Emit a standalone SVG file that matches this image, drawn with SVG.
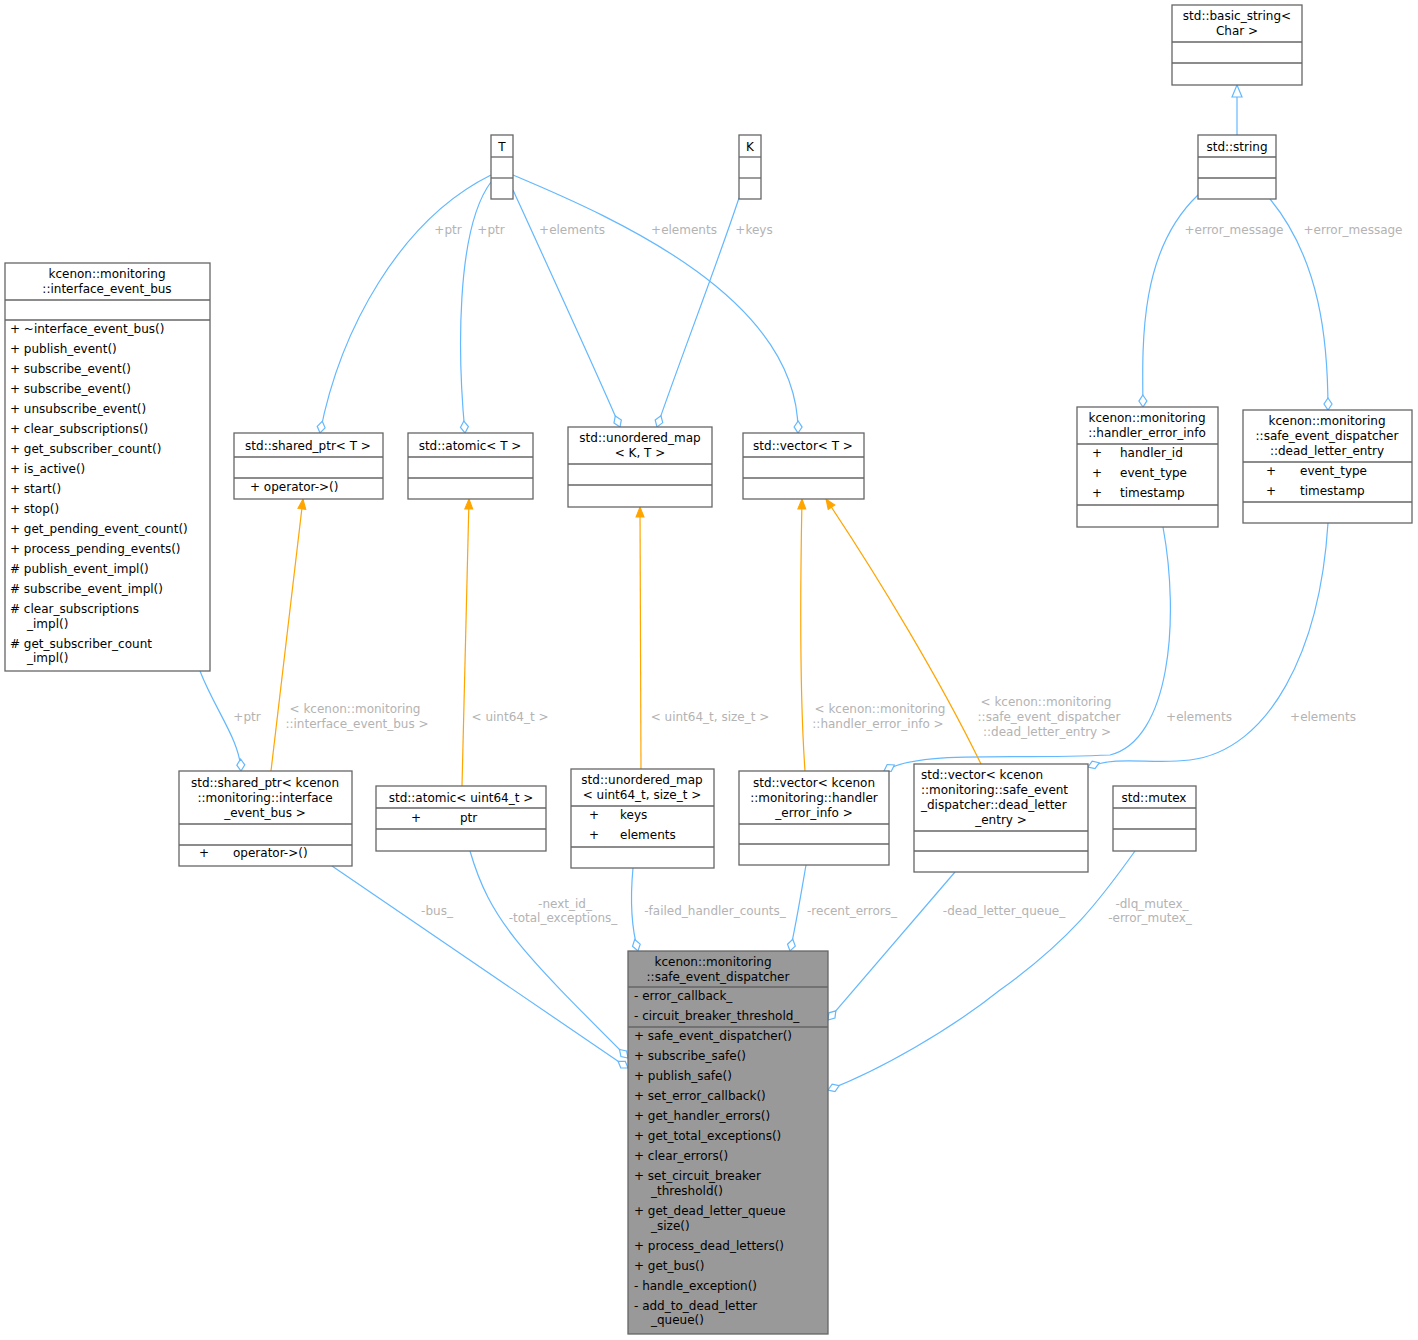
<svg xmlns="http://www.w3.org/2000/svg" width="1418" height="1340" viewBox="0 0 1418 1340">
<style>
text{font-family:"DejaVu Sans",sans-serif;font-size:12px;fill:#000}
.c{text-anchor:middle}
.b{fill:#fff;stroke:#666;stroke-width:1.3}
.m{fill:#999;stroke:#666;stroke-width:1.3}
.s{stroke:#666;stroke-width:1.3}
.e{fill:none;stroke:#63b8ff;stroke-width:1.2}
.o{fill:none;stroke:#ffa500;stroke-width:1.2}
.l{fill:#b3b3b3;text-anchor:middle}
</style>
<defs>
<marker id="dia" markerUnits="userSpaceOnUse" markerWidth="14" markerHeight="10" refX="13" refY="5" orient="auto"><path d="M1,5 L7,1 L13,5 L7,9 z" fill="#fff" stroke="#63b8ff" stroke-width="1.2"/></marker>
<marker id="arr" markerUnits="userSpaceOnUse" markerWidth="12" markerHeight="10" refX="11" refY="5" orient="auto"><path d="M1,1 L11,5 L1,9 z" fill="#ffa500" stroke="#ffa500"/></marker>
<marker id="inh" markerUnits="userSpaceOnUse" markerWidth="14" markerHeight="12" refX="13" refY="6" orient="auto"><path d="M1,1 L13,6 L1,11 z" fill="#fff" stroke="#63b8ff" stroke-width="1.2"/></marker>
</defs>

<g id="edges">
<path class="e" d="M491,175 C400,220 340,330 320,433" marker-end="url(#dia)"/>
<text class="l" x="448" y="234">+ptr</text>
<path class="e" d="M491,182 C455,230 458,360 465,433" marker-end="url(#dia)"/>
<text class="l" x="491" y="234">+ptr</text>
<path class="e" d="M513,190 C545,260 600,380 620,427" marker-end="url(#dia)"/>
<text class="l" x="572" y="234">+elements</text>
<path class="e" d="M513,175 C620,220 800,300 798,433" marker-end="url(#dia)"/>
<text class="l" x="684" y="234">+elements</text>
<path class="e" d="M739,198 C715,270 680,360 657,427" marker-end="url(#dia)"/>
<text class="l" x="754" y="234">+keys</text>
<path class="e" d="M1237,135 L1237,85" marker-end="url(#inh)"/>
<path class="e" d="M1198,195 C1140,250 1142,340 1143,407" marker-end="url(#dia)"/>
<text class="l" x="1234" y="234">+error_message</text>
<path class="e" d="M1270,199 C1320,260 1328,340 1328,410" marker-end="url(#dia)"/>
<text class="l" x="1353" y="234">+error_message</text>
<path class="e" d="M200,671 C215,710 240,740 241,771" marker-end="url(#dia)"/>
<text class="l" x="247" y="721">+ptr</text>
<path class="e" d="M1163,527 C1180,620 1170,740 1110,755 C1000,760 920,750 884,771" marker-end="url(#dia)"/>
<text class="l" x="1199" y="721">+elements</text>
<path class="e" d="M1328,523 C1320,650 1270,750 1190,760 C1150,765 1120,755 1088,767" marker-end="url(#dia)"/>
<text class="l" x="1323" y="721">+elements</text>

<path class="o" d="M271,771 L303,499" marker-end="url(#arr)"/>
<text class="l" x="355" y="713">&lt; kcenon::monitoring</text>
<text class="l" x="357" y="728">::interface_event_bus &gt;</text>
<path class="o" d="M462,786 L469,499" marker-end="url(#arr)"/>
<text class="l" x="510" y="721">&lt; uint64_t &gt;</text>
<path class="o" d="M641,769 L640,507" marker-end="url(#arr)"/>
<text class="l" x="710" y="721">&lt; uint64_t, size_t &gt;</text>
<path class="o" d="M805,771 C800,700 800,600 802,499" marker-end="url(#arr)"/>
<text class="l" x="880" y="713">&lt; kcenon::monitoring</text>
<text class="l" x="878" y="728">::handler_error_info &gt;</text>
<path class="o" d="M981,764 C940,680 880,580 826,499" marker-end="url(#arr)"/>
<text class="l" x="1046" y="706">&lt; kcenon::monitoring</text>
<text class="l" x="1049" y="721">::safe_event_dispatcher</text>
<text class="l" x="1047" y="736">::dead_letter_entry &gt;</text>

<path class="e" d="M332,866 L628,1068" marker-end="url(#dia)"/>
<text class="l" x="437" y="915">-bus_</text>
<path class="e" d="M470,851 C490,920 520,950 628,1058" marker-end="url(#dia)"/>
<text class="l" x="565" y="908">-next_id_</text>
<text class="l" x="563" y="922">-total_exceptions_</text>
<path class="e" d="M633,868 C630,900 632,930 638,951" marker-end="url(#dia)"/>
<text class="l" x="715" y="915">-failed_handler_counts_</text>
<path class="e" d="M806,865 C800,900 795,930 790,951" marker-end="url(#dia)"/>
<text class="l" x="852" y="915">-recent_errors_</text>
<path class="e" d="M955,872 L828,1020" marker-end="url(#dia)"/>
<text class="l" x="1004" y="915">-dead_letter_queue_</text>
<path class="e" d="M1135,851 C1100,900 1070,940 1000,990 C950,1030 880,1070 828,1090" marker-end="url(#dia)"/>
<text class="l" x="1152" y="908">-dlq_mutex_</text>
<text class="l" x="1150" y="922">-error_mutex_</text>
</g>

<g id="interface_event_bus">
<rect class="b" x="5" y="263" width="205" height="408"/>
<text class="c" x="107" y="278">kcenon::monitoring</text>
<text class="c" x="107" y="293">::interface_event_bus</text>
<line class="s" x1="5" y1="300" x2="210" y2="300"/><line class="s" x1="5" y1="320" x2="210" y2="320"/>
<text x="10" y="333">+  ~interface_event_bus()</text>
<text x="10" y="353">+  publish_event()</text>
<text x="10" y="373">+  subscribe_event()</text>
<text x="10" y="393">+  subscribe_event()</text>
<text x="10" y="413">+  unsubscribe_event()</text>
<text x="10" y="433">+  clear_subscriptions()</text>
<text x="10" y="453">+  get_subscriber_count()</text>
<text x="10" y="473">+  is_active()</text>
<text x="10" y="493">+  start()</text>
<text x="10" y="513">+  stop()</text>
<text x="10" y="533">+  get_pending_event_count()</text>
<text x="10" y="553">+  process_pending_events()</text>
<text x="10" y="573">#  publish_event_impl()</text>
<text x="10" y="593">#  subscribe_event_impl()</text>
<text x="10" y="613">#  clear_subscriptions</text>
<text x="27" y="628">_impl()</text>
<text x="10" y="648">#  get_subscriber_count</text>
<text x="27" y="662">_impl()</text>
</g>

<g id="basic_string">
<rect class="b" x="1172" y="5" width="130" height="80"/>
<text class="c" x="1237" y="20">std::basic_string&lt;</text>
<text class="c" x="1237" y="35">Char &gt;</text>
<line class="s" x1="1172" y1="42" x2="1302" y2="42"/><line class="s" x1="1172" y1="63" x2="1302" y2="63"/>
</g>
<g id="string">
<rect class="b" x="1198" y="135" width="78" height="64"/>
<text class="c" x="1237" y="151">std::string</text>
<line class="s" x1="1198" y1="157" x2="1276" y2="157"/><line class="s" x1="1198" y1="178" x2="1276" y2="178"/>
</g>
<g id="T">
<rect class="b" x="491" y="135" width="22" height="64"/>
<text class="c" x="502" y="151">T</text>
<line class="s" x1="491" y1="157" x2="513" y2="157"/><line class="s" x1="491" y1="178" x2="513" y2="178"/>
</g>
<g id="K">
<rect class="b" x="739" y="135" width="22" height="64"/>
<text class="c" x="750" y="151">K</text>
<line class="s" x1="739" y1="157" x2="761" y2="157"/><line class="s" x1="739" y1="178" x2="761" y2="178"/>
</g>
<g id="shared_ptr_T">
<rect class="b" x="234" y="433" width="149" height="66"/>
<text class="c" x="308" y="450">std::shared_ptr&lt; T &gt;</text>
<line class="s" x1="234" y1="457" x2="383" y2="457"/><line class="s" x1="234" y1="478" x2="383" y2="478"/>
<text x="250" y="491">+     operator-&gt;()</text>
</g>
<g id="atomic_T">
<rect class="b" x="408" y="433" width="125" height="66"/>
<text class="c" x="470" y="450">std::atomic&lt; T &gt;</text>
<line class="s" x1="408" y1="457" x2="533" y2="457"/><line class="s" x1="408" y1="478" x2="533" y2="478"/>
</g>
<g id="umap_KT">
<rect class="b" x="568" y="427" width="144" height="80"/>
<text class="c" x="640" y="442">std::unordered_map</text>
<text class="c" x="640" y="457">&lt; K, T &gt;</text>
<line class="s" x1="568" y1="464" x2="712" y2="464"/><line class="s" x1="568" y1="485" x2="712" y2="485"/>
</g>
<g id="vector_T">
<rect class="b" x="743" y="433" width="121" height="66"/>
<text class="c" x="803" y="450">std::vector&lt; T &gt;</text>
<line class="s" x1="743" y1="457" x2="864" y2="457"/><line class="s" x1="743" y1="478" x2="864" y2="478"/>
</g>
<g id="handler_error_info">
<rect class="b" x="1077" y="407" width="141" height="120"/>
<text class="c" x="1147" y="422">kcenon::monitoring</text>
<text class="c" x="1147" y="437">::handler_error_info</text>
<line class="s" x1="1077" y1="444" x2="1218" y2="444"/>
<text x="1092" y="457">+</text><text x="1120" y="457">handler_id</text>
<text x="1092" y="477">+</text><text x="1120" y="477">event_type</text>
<text x="1092" y="497">+</text><text x="1120" y="497">timestamp</text>
<line class="s" x1="1077" y1="505" x2="1218" y2="505"/>
</g>
<g id="dead_letter_entry">
<rect class="b" x="1243" y="410" width="169" height="113"/>
<text class="c" x="1327" y="425">kcenon::monitoring</text>
<text class="c" x="1327" y="440">::safe_event_dispatcher</text>
<text class="c" x="1327" y="455">::dead_letter_entry</text>
<line class="s" x1="1243" y1="462" x2="1412" y2="462"/>
<text x="1266" y="475">+</text><text x="1300" y="475">event_type</text>
<text x="1266" y="495">+</text><text x="1300" y="495">timestamp</text>
<line class="s" x1="1243" y1="502" x2="1412" y2="502"/>
</g>
<g id="shared_ptr_bus">
<rect class="b" x="179" y="771" width="173" height="95"/>
<text class="c" x="265" y="787">std::shared_ptr&lt; kcenon</text>
<text class="c" x="265" y="802">::monitoring::interface</text>
<text class="c" x="265" y="817">_event_bus &gt;</text>
<line class="s" x1="179" y1="824" x2="352" y2="824"/><line class="s" x1="179" y1="845" x2="352" y2="845"/>
<text x="199" y="857">+</text><text x="233" y="857">operator-&gt;()</text>
</g>
<g id="atomic_uint64">
<rect class="b" x="376" y="786" width="170" height="65"/>
<text class="c" x="461" y="802">std::atomic&lt; uint64_t &gt;</text>
<line class="s" x1="376" y1="808" x2="546" y2="808"/>
<text x="411" y="822">+</text><text x="460" y="822">ptr</text>
<line class="s" x1="376" y1="829" x2="546" y2="829"/>
</g>
<g id="umap_uint64">
<rect class="b" x="571" y="769" width="143" height="99"/>
<text class="c" x="642" y="784">std::unordered_map</text>
<text class="c" x="642" y="799">&lt; uint64_t, size_t &gt;</text>
<line class="s" x1="571" y1="806" x2="714" y2="806"/>
<text x="589" y="819">+</text><text x="620" y="819">keys</text>
<text x="589" y="839">+</text><text x="620" y="839">elements</text>
<line class="s" x1="571" y1="847" x2="714" y2="847"/>
</g>
<g id="vector_hei">
<rect class="b" x="739" y="771" width="150" height="94"/>
<text class="c" x="814" y="787">std::vector&lt; kcenon</text>
<text class="c" x="814" y="802">::monitoring::handler</text>
<text class="c" x="814" y="817">_error_info &gt;</text>
<line class="s" x1="739" y1="824" x2="889" y2="824"/><line class="s" x1="739" y1="844" x2="889" y2="844"/>
</g>
<g id="vector_dle">
<rect class="b" x="914" y="764" width="174" height="108"/>
<text x="921" y="779">std::vector&lt; kcenon</text>
<text x="921" y="794">::monitoring::safe_event</text>
<text x="921" y="809">_dispatcher::dead_letter</text>
<text class="c" x="1001" y="824">_entry &gt;</text>
<line class="s" x1="914" y1="831" x2="1088" y2="831"/><line class="s" x1="914" y1="851" x2="1088" y2="851"/>
</g>
<g id="mutex">
<rect class="b" x="1113" y="786" width="83" height="65"/>
<text class="c" x="1154" y="802">std::mutex</text>
<line class="s" x1="1113" y1="808" x2="1196" y2="808"/><line class="s" x1="1113" y1="829" x2="1196" y2="829"/>
</g>
<g id="safe_event_dispatcher">
<rect class="m" x="628" y="951" width="200" height="383"/>
<text class="c" x="713" y="966">kcenon::monitoring</text>
<text class="c" x="718" y="981">::safe_event_dispatcher</text>
<line class="s" x1="628" y1="987" x2="828" y2="987"/>
<text x="634" y="1000">-   error_callback_</text>
<text x="634" y="1020">-   circuit_breaker_threshold_</text>
<line class="s" x1="628" y1="1027" x2="828" y2="1027"/>
<text x="634" y="1040">+  safe_event_dispatcher()</text>
<text x="634" y="1060">+  subscribe_safe()</text>
<text x="634" y="1080">+  publish_safe()</text>
<text x="634" y="1100">+  set_error_callback()</text>
<text x="634" y="1120">+  get_handler_errors()</text>
<text x="634" y="1140">+  get_total_exceptions()</text>
<text x="634" y="1160">+  clear_errors()</text>
<text x="634" y="1180">+  set_circuit_breaker</text>
<text x="651" y="1195">_threshold()</text>
<text x="634" y="1215">+  get_dead_letter_queue</text>
<text x="651" y="1230">_size()</text>
<text x="634" y="1250">+  process_dead_letters()</text>
<text x="634" y="1270">+  get_bus()</text>
<text x="634" y="1290">-   handle_exception()</text>
<text x="634" y="1310">-   add_to_dead_letter</text>
<text x="651" y="1324">_queue()</text>
</g>
</svg>
